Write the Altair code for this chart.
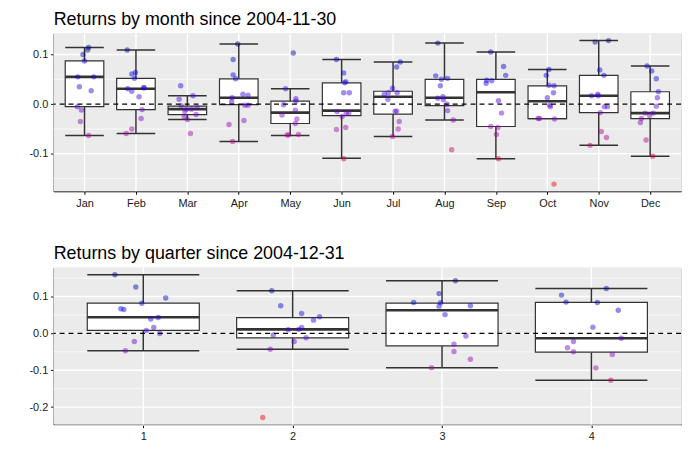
import altair as alt
import pandas as pd

# ---------------- data ----------------
months = ["Jan", "Feb", "Mar", "Apr", "May", "Jun", "Jul", "Aug", "Sep", "Oct", "Nov", "Dec"]

month_values = {
    "Jan": [0.114, 0.109, 0.100, 0.087, 0.055, 0.055, 0.035, 0.027, -0.005, -0.012, -0.035, -0.063],
    "Feb": [0.109, 0.061, 0.064, 0.052, 0.031, 0.026, 0.033, 0.033, 0.015, -0.011, -0.029, -0.050, -0.059],
    "Mar": [0.037, 0.010, 0.017, -0.003, -0.007, -0.010, -0.010, -0.015, -0.025, -0.021, -0.031, -0.059],
    "Apr": [0.121, 0.090, 0.059, 0.051, 0.020, 0.018, 0.013, 0.005, -0.002, -0.002, -0.033, -0.041, -0.075],
    "May": [0.103, 0.031, 0.011, 0.006, -0.001, -0.012, -0.022, -0.030, -0.039, -0.062, -0.062, -0.061],
    "Jun": [0.090, 0.063, 0.045, 0.043, 0.023, 0.023, -0.015, -0.025, -0.018, -0.018, -0.047, -0.051, -0.110],
    "Jul": [0.085, 0.075, 0.032, 0.020, 0.023, 0.010, 0.023, -0.014, -0.014, -0.035, -0.050, -0.065],
    "Aug": [0.123, 0.057, 0.050, 0.052, 0.037, 0.012, 0.015, 0.009, 0.000, -0.013, -0.032, -0.092],
    "Sep": [0.105, 0.076, 0.058, 0.042, 0.048, 0.047, 0.007, -0.018, -0.045, -0.047, -0.061, -0.110],
    "Oct": [0.070, 0.058, 0.038, 0.037, 0.023, 0.013, -0.002, -0.005, -0.029, -0.029, -0.030, -0.161],
    "Nov": [0.125, 0.128, 0.069, 0.058, 0.017, 0.020, 0.017, -0.005, -0.005, -0.017, -0.055, -0.067, -0.083],
    "Dec": [0.077, 0.067, 0.051, 0.025, 0.013, -0.004, -0.018, -0.018, -0.023, -0.029, -0.037, -0.072, -0.105],
}
month_jitter = {
    "Jan": [0.08, 0.06, -0.03, 0.0, -0.13, 0.18, -0.10, 0.13, -0.14, -0.06, -0.08, 0.08],
    "Feb": [-0.17, -0.08, -0.01, -0.03, -0.16, -0.08, 0.15, 0.16, 0.06, 0.12, 0.10, -0.08, -0.19],
    "Mar": [-0.13, -0.16, 0.11, -0.12, 0.19, -0.02, 0.08, -0.05, -0.06, 0.17, 0.0, 0.06],
    "Apr": [-0.02, -0.11, -0.11, -0.06, 0.08, 0.18, -0.13, -0.14, 0.12, 0.18, 0.10, -0.19, -0.12],
    "May": [0.06, -0.09, 0.11, 0.11, -0.13, 0.10, -0.16, 0.13, 0.10, -0.06, -0.03, 0.16],
    "Jun": [-0.10, 0.04, 0.08, 0.06, 0.04, 0.15, -0.09, 0.01, 0.09, 0.14, 0.08, -0.10, 0.04],
    "Jul": [0.14, 0.07, -0.01, -0.17, -0.09, -0.10, 0.08, 0.07, 0.04, 0.12, 0.10, -0.01],
    "Aug": [-0.13, -0.17, -0.06, 0.06, -0.08, -0.13, -0.03, -0.02, 0.05, 0.06, 0.17, 0.14],
    "Sep": [-0.10, 0.15, 0.19, -0.19, -0.18, -0.08, 0.05, 0.11, -0.10, 0.04, 0.01, 0.05],
    "Oct": [0.03, -0.02, 0.03, 0.13, 0.12, 0.0, 0.05, 0.06, -0.18, -0.15, 0.14, 0.13],
    "Nov": [-0.07, 0.19, 0.02, 0.10, -0.14, -0.02, -0.01, 0.11, 0.17, 0.03, 0.05, 0.15, -0.17],
    "Dec": [-0.06, 0.03, 0.12, 0.16, 0.14, 0.12, 0.06, -0.10, -0.01, -0.17, -0.19, -0.08, 0.05],
}
# box statistics: lower whisker, q1, median, q3, upper whisker
month_lo = [-0.063, -0.059, -0.031, -0.075, -0.063, -0.109, -0.065, -0.032, -0.110, -0.029, -0.083, -0.105]
month_q1 = [-0.005, -0.011, -0.021, -0.001, -0.039, -0.023, -0.020, -0.003, -0.045, -0.029, -0.017, -0.029]
month_med = [0.055, 0.031, -0.010, 0.013, -0.017, -0.013, 0.015, 0.013, 0.024, 0.006, 0.017, -0.018]
month_q3 = [0.087, 0.052, -0.004, 0.051, 0.006, 0.043, 0.026, 0.050, 0.050, 0.037, 0.058, 0.025]
month_hi = [0.114, 0.109, 0.017, 0.121, 0.031, 0.090, 0.085, 0.123, 0.105, 0.070, 0.128, 0.077]

quarters = ["1", "2", "3", "4"]
quarter_values = {
    "1": [0.159, 0.126, 0.096, 0.082, 0.067, 0.065, 0.039, 0.043, 0.016, 0.008, 0.000, -0.022, -0.047],
    "2": [0.116, 0.075, 0.054, 0.045, 0.036, 0.016, 0.010, 0.011, -0.004, -0.012, -0.022, -0.043, -0.228],
    "3": [0.143, 0.108, 0.083, 0.084, 0.074, 0.075, 0.051, -0.007, -0.029, -0.049, -0.070, -0.093],
    "4": [0.122, 0.104, 0.085, 0.084, 0.063, 0.017, -0.013, -0.022, -0.039, -0.050, -0.057, -0.094, -0.127],
}
quarter_jitter = {
    "1": [-0.19, -0.05, 0.15, -0.01, -0.15, -0.13, 0.05, 0.10, 0.07, 0.02, 0.11, -0.06, -0.12],
    "2": [-0.14, -0.08, 0.06, 0.18, 0.14, 0.06, -0.03, 0.04, -0.13, 0.09, 0.01, -0.15, -0.20],
    "3": [0.09, -0.02, -0.01, -0.19, -0.02, 0.19, 0.02, 0.16, 0.08, 0.08, 0.19, -0.07],
    "4": [0.10, -0.20, -0.17, 0.04, 0.18, 0.01, 0.20, -0.12, -0.16, -0.12, 0.14, 0.03, 0.13],
}
quarter_lo = [-0.047, -0.043, -0.093, -0.127]
quarter_q1 = [0.008, -0.012, -0.034, -0.051]
quarter_med = [0.044, 0.011, 0.063, -0.013]
quarter_q3 = [0.082, 0.043, 0.082, 0.084]
quarter_hi = [0.159, 0.116, 0.143, 0.122]

major_ticks = {"month": [-0.1, 0.0, 0.1], "quarter": [-0.2, -0.1, 0.0, 0.1]}
minor_ticks = {"month": [-0.15, -0.05, 0.05], "quarter": [-0.25, -0.15, -0.05, 0.05, 0.15]}

# colour ramp (position along the data range -> colour)
ramp_pos = [0.0, 0.2, 0.37, 0.5, 0.62, 0.76, 1.0]
ramp_col = ["#e60000", "#c4003c", "#a800a8", "#6a00c8", "#3c00e0", "#0000e6", "#000070"]

FONT = "Liberation Sans"
DARK = "#333333"
PANEL_BG = "#EBEBEB"
HALF = 0.375


def panel(cats, values, jitter, lo, q1, med, q3, hi, title, major, minor, height):
    pts = []
    for i, c in enumerate(cats):
        for v, j in zip(values[c], jitter[c]):
            pts.append({"idx": i + 1, "off": j, "ret": v})
    pts = pd.DataFrame(pts)
    pts["xpos"] = pts["idx"] + pts["off"]

    box = pd.DataFrame({"idx": range(1, len(cats) + 1), "lo": lo, "q1": q1,
                        "med": med, "q3": q3, "hi": hi})
    box["left"] = box["idx"] - HALF
    box["right"] = box["idx"] + HALF

    vmin, vmax = pts["ret"].min(), pts["ret"].max()
    rng = vmax - vmin
    ydom = [vmin - 0.05 * rng, vmax + 0.05 * rng]
    xdom = [0.4, len(cats) + 0.6]

    names = "[" + ",".join("'%s'" % c for c in cats) + "]"
    xs = alt.Scale(domain=xdom, nice=False, zero=False)
    ys = alt.Scale(domain=ydom, nice=False, zero=False)
    xaxis = alt.Axis(values=list(range(1, len(cats) + 1)), labelExpr=names + "[datum.value-1]",
                     title=None, grid=False,
                     domainColor="black", domainWidth=1.1, tickColor="black", tickSize=3,
                     labelColor="#1a1a1a", labelFontSize=11, labelPadding=3,
                     minExtent=20, maxExtent=20)
    yaxis = alt.Axis(values=major, labelExpr="replace(format(datum.value,'.1f'),'\u2212','-')",
                     title=None, grid=False,
                     domainColor="black", domainWidth=1.1, tickColor="black", tickSize=3,
                     labelColor="#1a1a1a", labelFontSize=11, labelPadding=3,
                     minExtent=45, maxExtent=45)

    bg = alt.Chart(pd.DataFrame({"x0": [xdom[0]], "x1": [xdom[1]], "y0": [ydom[0]], "y1": [ydom[1]]})
                   ).mark_rect(fill=PANEL_BG, strokeWidth=0).encode(
        x=alt.X("x0:Q", scale=xs, axis=xaxis), x2="x1:Q",
        y=alt.Y("y0:Q", scale=ys, axis=yaxis), y2="y1:Q")
    minor_l = alt.Chart(pd.DataFrame({"y": minor})).mark_rule(color="#ffffff", strokeWidth=0.7).encode(
        y=alt.Y("y:Q", scale=ys, axis=yaxis))
    major_l = alt.Chart(pd.DataFrame({"y": major})).mark_rule(color="#ffffff", strokeWidth=1.4).encode(
        y=alt.Y("y:Q", scale=ys, axis=yaxis))
    vgrid = alt.Chart(pd.DataFrame({"idx": list(range(1, len(cats) + 1))})).mark_rule(
        color="#ffffff", strokeWidth=1.4).encode(x=alt.X("idx:Q", scale=xs, axis=xaxis))

    base_b = alt.Chart(box)
    whisk_up = base_b.mark_rule(color=DARK, strokeWidth=1.5).encode(
        x=alt.X("idx:Q", scale=xs, axis=xaxis), y=alt.Y("q3:Q", scale=ys, axis=yaxis), y2="hi:Q")
    whisk_dn = base_b.mark_rule(color=DARK, strokeWidth=1.5).encode(
        x=alt.X("idx:Q", scale=xs, axis=xaxis), y=alt.Y("lo:Q", scale=ys, axis=yaxis), y2="q1:Q")
    cap_up = base_b.mark_rule(color=DARK, strokeWidth=1.5).encode(
        x=alt.X("left:Q", scale=xs, axis=xaxis), x2="right:Q", y=alt.Y("hi:Q", scale=ys, axis=yaxis))
    cap_dn = base_b.mark_rule(color=DARK, strokeWidth=1.5).encode(
        x=alt.X("left:Q", scale=xs, axis=xaxis), x2="right:Q", y=alt.Y("lo:Q", scale=ys, axis=yaxis))
    rect = base_b.mark_rect(fill="white", stroke=DARK, strokeWidth=1.2).encode(
        x=alt.X("left:Q", scale=xs, axis=xaxis), x2="right:Q",
        y=alt.Y("q1:Q", scale=ys, axis=yaxis), y2="q3:Q")
    median = base_b.mark_rule(color=DARK, strokeWidth=2.6).encode(
        x=alt.X("left:Q", scale=xs, axis=xaxis), x2="right:Q", y=alt.Y("med:Q", scale=ys, axis=yaxis))

    cdom = [vmin + p * rng for p in ramp_pos]
    points = alt.Chart(pts).mark_circle(size=30, opacity=0.45).encode(
        x=alt.X("xpos:Q", scale=xs, axis=xaxis),
        y=alt.Y("ret:Q", scale=ys, axis=yaxis),
        color=alt.Color("ret:Q", scale=alt.Scale(domain=cdom, range=ramp_col, interpolate="rgb"),
                        legend=None),
    )
    zero = alt.Chart(pd.DataFrame({"z": [0.0]})).mark_rule(
        color="black", strokeWidth=1.1, strokeDash=[5, 4]).encode(y=alt.Y("z:Q", scale=ys, axis=yaxis))

    return alt.layer(bg, minor_l, major_l, vgrid, whisk_up, whisk_dn, cap_up, cap_dn, rect, median,
                     points, zero).properties(
        width=632, height=height,
        title=alt.TitleParams(title, anchor="start", frame="group", fontSize=18, font=FONT,
                              fontWeight="normal", color="black", offset=4),
    )


top = panel(months, month_values, month_jitter, month_lo, month_q1, month_med, month_q3, month_hi,
            "Returns by month since 2004-11-30", major_ticks["month"], minor_ticks["month"], 159)
bottom = panel(quarters, quarter_values, quarter_jitter, quarter_lo, quarter_q1, quarter_med,
               quarter_q3, quarter_hi, "Returns by quarter since 2004-12-31",
               major_ticks["quarter"], minor_ticks["quarter"], 158)

chart = alt.vconcat(top, bottom, spacing=32).resolve_scale(
    color="independent", x="independent", y="independent"
).properties(padding=0).configure_view(stroke=None).configure(font=FONT)

chart.save("out.html", embed_options={"renderer": "svg", "actions": False})
